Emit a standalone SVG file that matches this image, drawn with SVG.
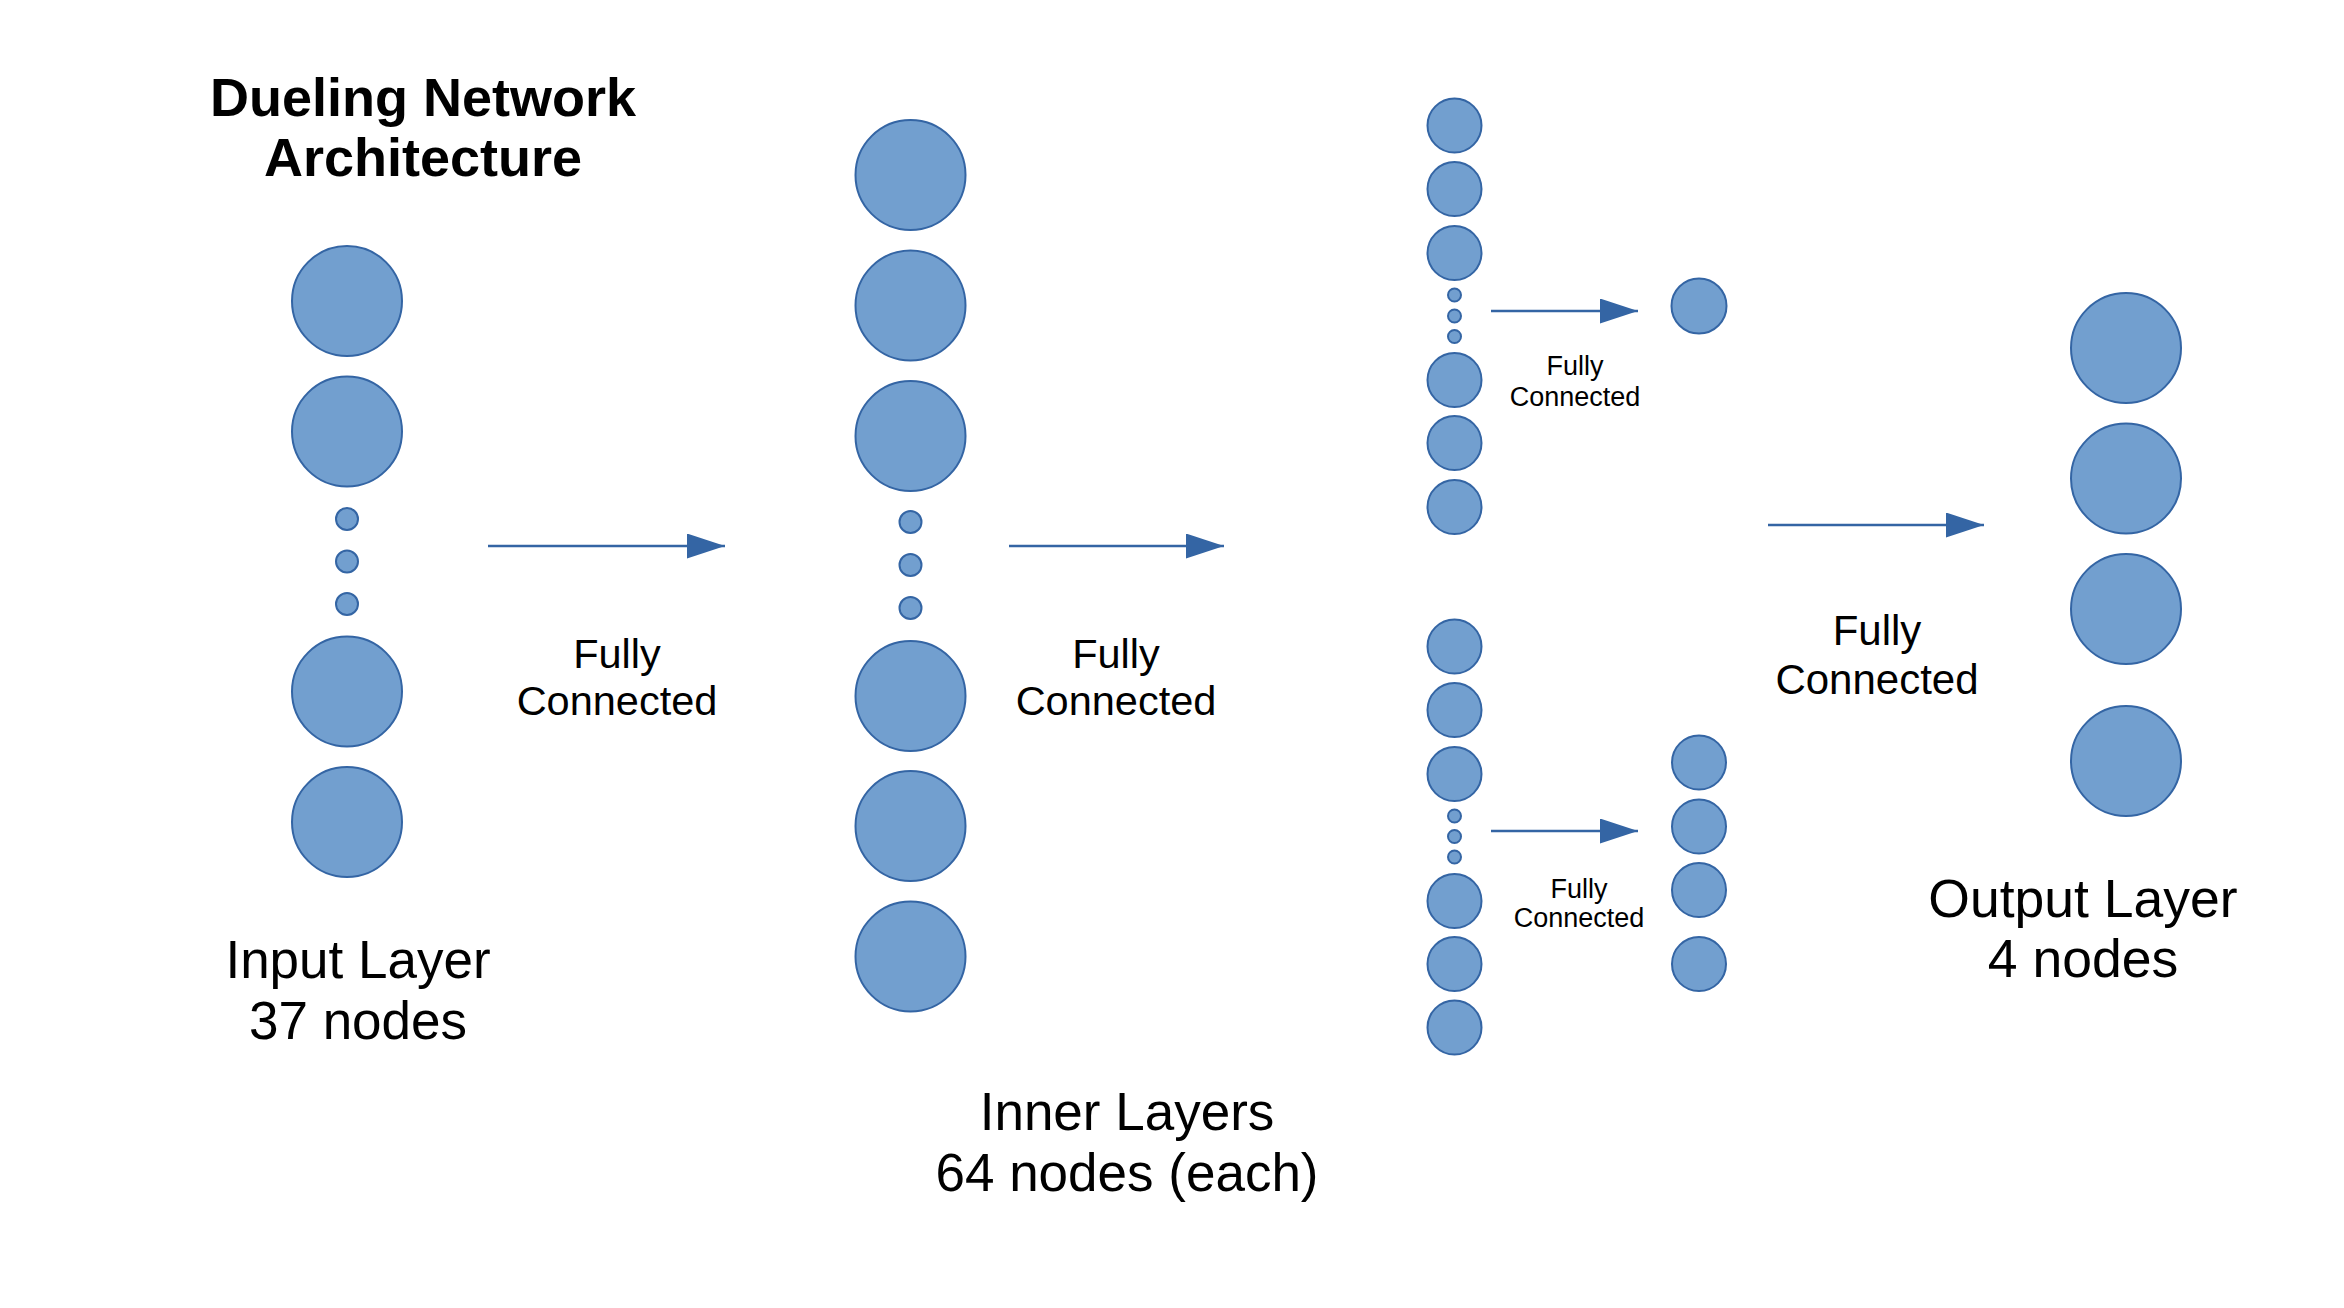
<svg xmlns="http://www.w3.org/2000/svg" width="2344" height="1308" viewBox="0 0 2344 1308">
<defs>
<style>
.n{fill:#729fcf;stroke:#3465a4;stroke-width:2}
.c{stroke:#3465a4;stroke-width:2.5;fill:none}
.t{font-family:"Liberation Sans",Arial,sans-serif;fill:#000;text-anchor:middle}
</style>
<marker id="ah" markerUnits="userSpaceOnUse" markerWidth="40" markerHeight="26" refX="38" refY="12.5" orient="auto">
<path d="M0,0 L38,12.5 L0,25 Z" fill="#3465a4"/>
</marker>
</defs>
<rect width="2344" height="1308" fill="#fff"/>
<g id="title">
<text class="t" x="423" y="116" font-size="54" font-weight="bold">Dueling Network</text>
<text class="t" x="423" y="176" font-size="54" font-weight="bold">Architecture</text>
</g>
<g id="input-layer">
<circle class="n" cx="347" cy="301" r="55"/>
<circle class="n" cx="347" cy="431.5" r="55"/>
<circle class="n" cx="347" cy="519" r="11"/>
<circle class="n" cx="347" cy="561.5" r="11"/>
<circle class="n" cx="347" cy="604" r="11"/>
<circle class="n" cx="347" cy="691.5" r="55"/>
<circle class="n" cx="347" cy="822" r="55"/>
<text class="t" x="358" y="978" font-size="53">Input Layer</text>
<text class="t" x="358" y="1039" font-size="53">37 nodes</text>
</g>
<g id="inner-layer-1">
<circle class="n" cx="910.5" cy="175" r="55"/>
<circle class="n" cx="910.5" cy="305.5" r="55"/>
<circle class="n" cx="910.5" cy="436" r="55"/>
<circle class="n" cx="910.5" cy="522" r="11"/>
<circle class="n" cx="910.5" cy="565" r="11"/>
<circle class="n" cx="910.5" cy="608" r="11"/>
<circle class="n" cx="910.5" cy="696" r="55"/>
<circle class="n" cx="910.5" cy="826" r="55"/>
<circle class="n" cx="910.5" cy="956.5" r="55"/>
</g>
<g id="inner-layer-2-top">
<circle class="n" cx="1454.5" cy="125.5" r="27"/>
<circle class="n" cx="1454.5" cy="189" r="27"/>
<circle class="n" cx="1454.5" cy="253" r="27"/>
<circle class="n" cx="1454.5" cy="295" r="6.5"/>
<circle class="n" cx="1454.5" cy="316" r="6.5"/>
<circle class="n" cx="1454.5" cy="336.5" r="6.5"/>
<circle class="n" cx="1454.5" cy="380" r="27"/>
<circle class="n" cx="1454.5" cy="443" r="27"/>
<circle class="n" cx="1454.5" cy="507" r="27"/>
</g>
<g id="inner-layer-2-bottom">
<circle class="n" cx="1454.5" cy="646.5" r="27"/>
<circle class="n" cx="1454.5" cy="710" r="27"/>
<circle class="n" cx="1454.5" cy="774" r="27"/>
<circle class="n" cx="1454.5" cy="816" r="6.5"/>
<circle class="n" cx="1454.5" cy="836.5" r="6.5"/>
<circle class="n" cx="1454.5" cy="857" r="6.5"/>
<circle class="n" cx="1454.5" cy="901" r="27"/>
<circle class="n" cx="1454.5" cy="964" r="27"/>
<circle class="n" cx="1454.5" cy="1027.5" r="27"/>
</g>
<g id="inner-labels">
<text class="t" x="1127" y="1130" font-size="53">Inner Layers</text>
<text class="t" x="1127" y="1191" font-size="53">64 nodes (each)</text>
</g>
<g id="value-stream">
<circle class="n" cx="1699" cy="306" r="27.5"/>
</g>
<g id="advantage-stream">
<circle class="n" cx="1699" cy="762.5" r="27"/>
<circle class="n" cx="1699" cy="826.5" r="27"/>
<circle class="n" cx="1699" cy="890" r="27"/>
<circle class="n" cx="1699" cy="964" r="27"/>
</g>
<g id="output-layer">
<circle class="n" cx="2126" cy="348" r="55"/>
<circle class="n" cx="2126" cy="478.5" r="55"/>
<circle class="n" cx="2126" cy="609" r="55"/>
<circle class="n" cx="2126" cy="761" r="55"/>
<text class="t" x="2083" y="917" font-size="53.5">Output Layer</text>
<text class="t" x="2083" y="976.5" font-size="53.5">4 nodes</text>
</g>
<g id="connectors">
<line class="c" x1="488" y1="546" x2="725" y2="546" marker-end="url(#ah)"/>
<line class="c" x1="1009" y1="546" x2="1224" y2="546" marker-end="url(#ah)"/>
<line class="c" x1="1491" y1="311" x2="1638" y2="311" marker-end="url(#ah)"/>
<line class="c" x1="1491" y1="831" x2="1638" y2="831" marker-end="url(#ah)"/>
<line class="c" x1="1768" y1="525" x2="1984" y2="525" marker-end="url(#ah)"/>
<text class="t" x="617" y="668" font-size="41.5">Fully</text>
<text class="t" x="617" y="715" font-size="41.5">Connected</text>
<text class="t" x="1116" y="668" font-size="41.5">Fully</text>
<text class="t" x="1116" y="715" font-size="41.5">Connected</text>
<text class="t" x="1575" y="375" font-size="27">Fully</text>
<text class="t" x="1575" y="405.5" font-size="27">Connected</text>
<text class="t" x="1579" y="897.5" font-size="27">Fully</text>
<text class="t" x="1579" y="927" font-size="27">Connected</text>
<text class="t" x="1877" y="645" font-size="42">Fully</text>
<text class="t" x="1877" y="694" font-size="42">Connected</text>
</g>
</svg>
